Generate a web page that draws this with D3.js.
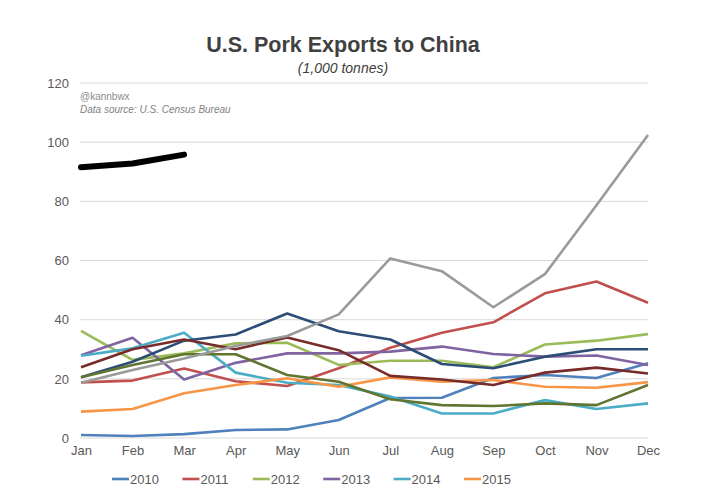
<!DOCTYPE html>
<html><head><meta charset="utf-8">
<script src="https://cdn.jsdelivr.net/npm/d3@7"></script>
<style>body{margin:0;background:#fff}svg{display:block}</style>
</head><body>
<svg id="chart" width="720" height="488"></svg>
<script>
const months = ["Jan","Feb","Mar","Apr","May","Jun","Jul","Aug","Sep","Oct","Nov","Dec"];
const yTicks = [0,20,40,60,80,100,120];
const years = ["2010","2011","2012","2013","2014","2015","2016","2017","2018","2019","2020"];
const legendYears = ["2010","2011","2012","2013","2014","2015"];
const v2010 = [1.0,0.7,1.3,2.7,2.9,6.1,13.5,13.6,20.3,21.3,20.3,25.3];
const v2011 = [18.8,19.4,23.5,19.2,17.6,23.6,30.5,35.6,39.1,48.9,52.9,45.7];
const v2012 = [36.2,26.4,28.6,32.0,32.2,24.7,26.1,26.1,23.9,31.6,32.9,35.1];
const v2013 = [28.0,33.9,19.8,25.4,28.6,28.6,29.2,30.9,28.4,27.5,27.9,24.7];
const v2014 = [27.8,30.3,35.6,22.1,18.7,17.9,14.0,8.3,8.3,12.8,9.8,11.7];
const v2015 = [8.9,9.8,15.1,17.9,20.2,17.3,20.5,19.0,19.6,17.3,17.0,18.9];
const v2016 = [20.5,25.8,32.9,35.0,42.1,36.1,33.3,25.0,23.6,27.5,30.0,30.0];
const v2017 = [23.9,30.0,33.3,30.0,34.0,29.7,21.0,19.8,17.9,22.1,23.8,21.8];
const v2018 = [20.5,24.7,28.3,28.3,21.3,19.0,13.1,11.1,10.8,11.7,11.1,17.9];
const v2019 = [18.7,23.0,26.9,31.1,34.5,41.8,60.7,56.4,44.2,55.4,78.7,102.4];
const v2020 = [91.5,92.8,95.8];
const colors = ["#4F81BD","#C0504D","#9BBB59","#8064A2","#4BACC6","#F79646","#2C4D75","#772C2A","#5F7530","#9A9A9A","#000000"];

const seriesVals = [v2010,v2011,v2012,v2013,v2014,v2015,v2016,v2017,v2018,v2019,v2020];
const series = years.map((y,i)=>({year:y, values:seriesVals[i], color:colors[i], width: y==="2020"?6:2.6}));

const svg = d3.select("#chart");
const x = d3.scalePoint().domain(months).range([81,648]).padding(0);
const y = d3.scaleLinear().domain([0,120]).range([438,83]);

// gridlines
svg.append("g").selectAll("line").data(yTicks).join("line")
  .attr("x1",80).attr("x2",648).attr("y1",d=>y(d)).attr("y2",d=>y(d))
  .attr("stroke","#d9d9d9").attr("stroke-width",1);

// y axis labels
const yAxis = d3.axisLeft(y).tickValues(yTicks).tickSize(0).tickPadding(0);
const gy = svg.append("g").attr("transform","translate(69,0)").call(yAxis);
gy.select(".domain").remove();
gy.selectAll("text").attr("font-family","Liberation Sans, Arial, sans-serif").attr("font-size",13).attr("fill","#595959");

// x axis labels
const xAxis = d3.axisBottom(x).tickSize(0).tickPadding(0);
const gx = svg.append("g").attr("transform","translate(0,446)").call(xAxis);
gx.select(".domain").remove();
gx.selectAll("text").attr("font-family","Liberation Sans, Arial, sans-serif").attr("font-size",13).attr("fill","#595959");

// lines
const line = d3.line().x((d,i)=>x(months[i])).y(d=>y(d));
svg.append("g").selectAll("path").data(series).join("path")
  .attr("d",d=>line(d.values)).attr("fill","none")
  .attr("stroke",d=>d.color).attr("stroke-width",d=>d.width)
  .attr("stroke-linejoin","round").attr("stroke-linecap",d=>d.year==="2020"?"round":"butt");

// title
svg.append("text").attr("x",343).attr("y",52).attr("text-anchor","middle")
  .attr("font-family","Liberation Sans, Arial, sans-serif").attr("font-size",21.5).attr("font-weight","bold")
  .attr("fill","#404040").text("U.S. Pork Exports to China");
svg.append("text").attr("x",343).attr("y",73).attr("text-anchor","middle")
  .attr("font-family","Liberation Sans, Arial, sans-serif").attr("font-size",14).attr("font-style","italic")
  .attr("fill","#404040").text("(1,000 tonnes)");

// annotation
svg.append("text").attr("x",80).attr("y",100).attr("font-family","Liberation Sans, Arial, sans-serif")
  .attr("font-size",10).attr("fill","#8c8c8c").text("@kannbwx");
svg.append("text").attr("x",80).attr("y",113).attr("font-family","Liberation Sans, Arial, sans-serif")
  .attr("font-size",10).attr("font-style","italic").attr("fill","#7f7f7f").text("Data source: U.S. Census Bureau");

// legend
const lg = svg.append("g").selectAll("g").data(legendYears).join("g")
  .attr("transform",(d,i)=>`translate(${112+i*70.4},479)`);
lg.append("line").attr("x1",0).attr("x2",17).attr("y1",0).attr("y2",0)
  .attr("stroke",d=>colors[years.indexOf(d)]).attr("stroke-width",2.6);
lg.append("text").attr("x",18).attr("y",4.5).attr("font-family","Liberation Sans, Arial, sans-serif")
  .attr("font-size",13).attr("fill","#595959").text(d=>d);
</script>
</body></html>
